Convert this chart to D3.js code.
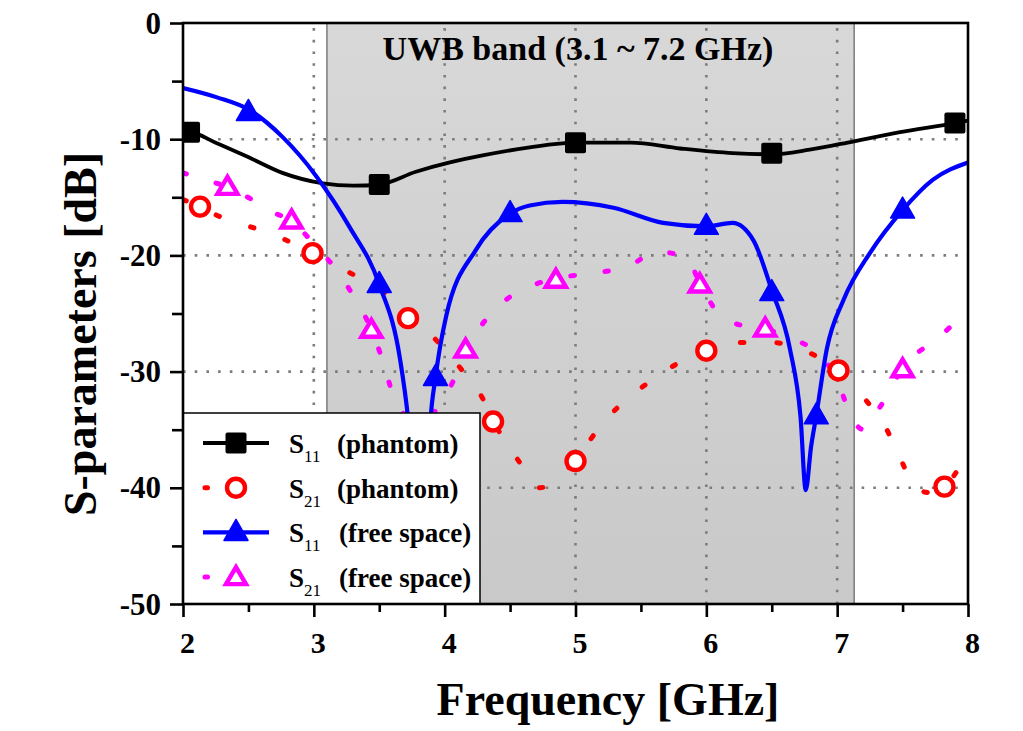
<!DOCTYPE html>
<html><head><meta charset="utf-8">
<script src="https://cdn.jsdelivr.net/npm/d3@7"></script>
<style>body{margin:0;background:#fff}svg{display:block}text{font-family:"Liberation Serif","Times New Roman",serif;font-weight:bold}</style>
</head><body><svg id="c" width="1023" height="731"></svg>
<script>
// ---- data ----
const xTicks = [2,3,4,5,6,7,8];
const yTicks = [0,-10,-20,-30,-40,-50];
const band = [3.1, 7.13];
const bandLabel = "UWB band (3.1 ~ 7.2 GHz)";

const s11PhantomCurve = [[2.0,-9.4],[2.05,-9.4],[2.25,-10.3],[2.51,-11.6],[2.76,-12.9],[3.07,-13.8],[3.3,-14.0],[3.5,-13.9],[3.78,-12.8],[4.04,-12.0],[4.29,-11.4],[4.65,-10.7],[5.0,-10.3],[5.42,-10.3],[5.8,-10.8],[6.2,-11.2],[6.5,-11.3],[6.79,-10.9],[7.12,-10.2],[7.48,-9.4],[7.91,-8.6],[8.0,-8.4]];
const s11PhantomMarks = [[2.05,-9.4],[3.5,-13.9],[5.0,-10.3],[6.5,-11.2],[7.9,-8.6]];

const s21PhantomCurve = [[2.0,-15.2],[2.13,-15.8],[2.25,-16.5],[2.48,-17.4],[2.73,-18.4],[2.99,-19.8],[3.17,-20.9],[3.42,-22.4],[3.66,-24.4],[3.72,-25.3],[3.9,-26.9],[4.12,-29.7],[4.29,-32.3],[4.37,-34.2],[4.56,-37.6],[4.73,-40.0],[4.9,-38.7],[5.0,-37.7],[5.11,-35.9],[5.32,-33.1],[5.55,-31.0],[5.78,-29.3],[6.0,-28.1],[6.26,-27.5],[6.5,-27.5],[6.73,-28.1],[7.0,-29.9],[7.2,-32.2],[7.37,-34.8],[7.48,-37.4],[7.6,-40.0],[7.7,-40.4],[7.82,-39.9],[7.94,-38.2],[8.0,-37.3]];
const s21PhantomMarks = [[2.13,-15.8],[2.99,-19.8],[3.72,-25.4],[4.37,-34.3],[5.0,-37.7],[6.0,-28.2],[7.01,-29.9],[7.82,-39.9]];

const s11FreeCurve = [[2.0,-5.6],[2.26,-6.4],[2.51,-7.5],[2.76,-9.8],[3.02,-13.2],[3.27,-17.5],[3.5,-22.5],[3.66,-29.0],[3.72,-34.0],[3.78,-42.0],[3.82,-45.0],[3.86,-42.0],[3.89,-34.5],[3.93,-30.5],[4.01,-25.3],[4.24,-19.5],[4.5,-16.4],[4.65,-15.7],[4.9,-15.4],[5.29,-15.9],[5.67,-17.2],[6.0,-17.5],[6.2,-17.2],[6.36,-18.7],[6.5,-23.0],[6.64,-28.1],[6.72,-33.9],[6.76,-40.2],[6.8,-36.5],[6.84,-33.8],[6.92,-28.1],[7.05,-23.8],[7.25,-19.8],[7.5,-16.1],[7.73,-13.5],[8.0,-12.0]];
const s11FreeMarks = [[2.5,-7.7],[3.5,-22.5],[3.93,-30.5],[4.5,-16.4],[6.0,-17.5],[6.5,-23.2],[6.84,-33.8],[7.5,-16.1]];

const s21FreeCurve = [[2.0,-12.9],[2.2,-13.6],[2.34,-14.1],[2.48,-14.9],[2.71,-16.4],[2.83,-17.0],[2.96,-18.5],[3.16,-21.1],[3.33,-24.0],[3.44,-26.4],[3.53,-29.2],[3.6,-31.8],[3.7,-33.8],[3.8,-34.3],[3.92,-33.5],[4.02,-31.8],[4.12,-29.4],[4.16,-28.1],[4.25,-26.5],[4.45,-24.0],[4.69,-22.5],[4.84,-22.0],[5.16,-21.5],[5.39,-21.0],[5.63,-19.7],[5.85,-20.2],[5.95,-22.4],[6.13,-25.4],[6.36,-26.2],[6.45,-26.3],[6.6,-27.0],[6.85,-28.4],[7.01,-31.0],[7.1,-33.7],[7.2,-35.0],[7.3,-33.5],[7.37,-32.3],[7.5,-29.7],[7.76,-27.2],[8.0,-24.8]];
const s21FreeMarks = [[2.34,-14.1],[2.83,-17.0],[3.44,-26.4],[4.16,-28.1],[4.85,-22.1],[5.95,-22.5],[6.45,-26.3],[7.5,-29.8]];

const seriesNames = ["(phantom)","(phantom)","(free space)","(free space)"];
const seriesSubs = ["11","21","11","21"];

// ---- drawing ----
const svg = d3.select("#c");
const L=183, R=968, T=23, B=604;
const x = d3.scaleLinear().domain([2,8]).range([L,R]);
const y = d3.scaleLinear().domain([-50,0]).range([B,T]);

const defs = svg.append("defs");
const g = defs.append("linearGradient").attr("id","bandg").attr("x1",0).attr("y1",0).attr("x2",0).attr("y2",1);
g.append("stop").attr("offset","0%").attr("stop-color","#d8d8d8");
g.append("stop").attr("offset","100%").attr("stop-color","#c9c9c9");
defs.append("clipPath").attr("id","clip").append("rect").attr("x",L).attr("y",T).attr("width",R-L).attr("height",B-T);

// band
svg.append("rect").attr("x",x(band[0])).attr("y",T).attr("width",x(band[1])-x(band[0])).attr("height",B-T)
  .attr("fill","url(#bandg)");
svg.selectAll(".bedge").data(band).join("line").attr("x1",d=>x(d)).attr("x2",d=>x(d)).attr("y1",T).attr("y2",B)
  .attr("stroke","#7a7a7a").attr("stroke-width",1.5);

// grid
const grid = svg.append("g").attr("stroke","#7c7c7c").attr("stroke-width",2.6).attr("stroke-dasharray","2.6,9.1");
grid.selectAll(".gx").data(xTicks.slice(1,-1)).join("line").attr("x1",d=>x(d)).attr("x2",d=>x(d)).attr("y1",B).attr("y2",T);
grid.selectAll(".gy").data(yTicks.slice(1,-1)).join("line").attr("y1",d=>y(d)).attr("y2",d=>y(d)).attr("x1",L).attr("x2",R);

svg.append("text").attr("x",578).attr("y",60).attr("text-anchor","middle").attr("font-size",34).text(bandLabel);

// curves
const line = d3.line().x(d=>x(d[0])).y(d=>y(d[1])).curve(d3.curveMonotoneX);
const plot = svg.append("g").attr("clip-path","url(#clip)");
const styles = [
 {curve:s11PhantomCurve, marks:s11PhantomMarks, color:"#000000", sw:3.8, dash:null, marker:"square"},
 {curve:s21PhantomCurve, marks:s21PhantomMarks, color:"#ff0000", sw:5, dash:"3.5,33", marker:"circle"},
 {curve:s11FreeCurve, marks:s11FreeMarks, color:"#0000ff", sw:4.2, dash:null, marker:"tri"},
 {curve:s21FreeCurve, marks:s21FreeMarks, color:"#ff00ff", sw:5, dash:"3.5,31", marker:"otri"}
];
function drawMarker(sel, type, color){
  if(type==="square") sel.append("rect").attr("x",-10.5).attr("y",-10.5).attr("width",21).attr("height",21).attr("rx",2).attr("fill",color);
  else if(type==="circle") sel.append("circle").attr("r",9).attr("fill","#fff").attr("stroke",color).attr("stroke-width",4.4);
  else if(type==="tri") sel.append("path").attr("d","M0,-13L12,8L-12,8Z").attr("fill",color).attr("stroke",color).attr("stroke-width",1.5).attr("stroke-linejoin","round");
  else sel.append("path").attr("d","M0,-10L10,7L-10,7Z").attr("fill","#fff").attr("stroke",color).attr("stroke-width",4.4).attr("stroke-linejoin","miter");
}
[1,3,0,2].forEach(i=>{
  const s=styles[i];
  const p=plot.append("path").datum(s.curve).attr("d",line).attr("fill","none").attr("stroke",s.color).attr("stroke-width",s.sw);
  if(s.dash) p.attr("stroke-dasharray",s.dash).attr("stroke-linecap","round");
});
[1,3,0,2].forEach(i=>{
  const s=styles[i];
  s.marks.forEach(m=>{
    const mg=plot.append("g").attr("transform",`translate(${x(m[0])},${y(m[1])})`);
    drawMarker(mg,s.marker,s.color);
  });
});

// legend
const lg = svg.append("g");
lg.append("rect").attr("x",L).attr("y",413).attr("width",297).attr("height",B-413).attr("fill","#fff").attr("stroke","#000").attr("stroke-width",1.5);
styles.forEach((s,i)=>{
  const cy = 443 + i*44.7;
  const row = lg.append("g");
  if(s.dash){
    row.append("line").attr("x1",205).attr("x2",207.5).attr("y1",cy).attr("y2",cy).attr("stroke",s.color).attr("stroke-width",s.sw).attr("stroke-linecap","round");
  } else {
    row.append("line").attr("x1",203).attr("x2",269).attr("y1",cy).attr("y2",cy).attr("stroke",s.color).attr("stroke-width",s.sw);
  }
  const mg=row.append("g").attr("transform",`translate(236,${cy})`);
  drawMarker(mg,s.marker,s.color);
  const t = row.append("text").attr("x",289).attr("y",cy+10).attr("font-size",27);
  t.append("tspan").text("S");
  t.append("tspan").attr("dy",9).attr("font-size",17).attr("font-weight","normal").text(seriesSubs[i]);
  row.append("text").attr("x", i<2?337:339).attr("y",cy+10).attr("font-size",27).text(seriesNames[i]);
});

// axes frame and ticks
svg.append("rect").attr("x",L).attr("y",T).attr("width",R-L).attr("height",B-T).attr("fill","none").attr("stroke","#000").attr("stroke-width",2.6);
const xAxis = d3.axisBottom(x).tickValues(d3.range(2,8.01,0.5)).tickSize(0).tickFormat("");
const xa = svg.append("g").attr("transform",`translate(0,${B})`).call(xAxis);
xa.select(".domain").remove();
xa.selectAll(".tick").append("line").attr("y1",0).attr("y2",d=>Number.isInteger(d)?13:8).attr("stroke","#000").attr("stroke-width",2.6);
xa.selectAll(".tick").filter(d=>Number.isInteger(d)).append("text").attr("x",4).attr("y",49).attr("fill","#000")
  .attr("text-anchor","middle").attr("font-size",30).attr("font-family","Liberation Serif").attr("font-weight","bold").text(d=>d);

const yAxis = d3.axisLeft(y).tickValues(d3.range(-50,0.01,5)).tickSize(0).tickFormat("");
const ya = svg.append("g").attr("transform",`translate(${L},0)`).call(yAxis);
ya.select(".domain").remove();
ya.selectAll(".tick").append("line").attr("x1",0).attr("x2",d=>d%10===0?-13:-11).attr("stroke","#000").attr("stroke-width",2.6);
ya.selectAll(".tick").filter(d=>yTicks.includes(d)).append("text").attr("x",-22).attr("y",10).attr("fill","#000")
  .attr("text-anchor","end").attr("font-size",31).attr("font-family","Liberation Serif").attr("font-weight","bold").text(d=>d);

// titles
svg.append("text").attr("x",608).attr("y",715).attr("text-anchor","middle").attr("font-size",46).text("Frequency [GHz]");
svg.append("text").attr("transform","translate(96,334) rotate(-90)").attr("text-anchor","middle").attr("font-size",46).text("S-parameters [dB]");
</script></body></html>
